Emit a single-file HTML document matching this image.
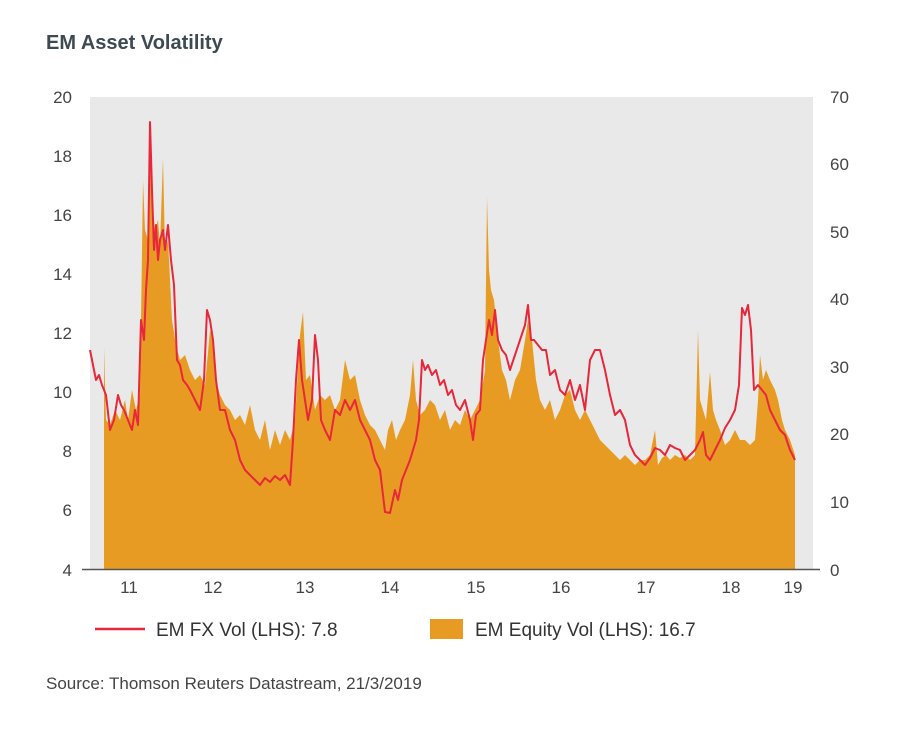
<!DOCTYPE html>
<html><head><meta charset="utf-8"><style>
body{margin:0;background:#fff;font-family:"Liberation Sans",sans-serif;}
</style></head><body>
<svg width="904" height="737" xmlns="http://www.w3.org/2000/svg" font-family="Liberation Sans, sans-serif">
<rect width="904" height="737" fill="#fff"/>
<text x="46" y="49" font-size="20" font-weight="bold" fill="#3d4a52">EM Asset Volatility</text>
<rect x="90" y="97" width="723" height="472" fill="#e9e9e9"/>
<polygon fill="#e89b22" points="104,570 104,347 106,420 110,425 115,410 120,420 125,400 128,420 132,390 136,410 140,395 143,180 145,230 148,240 150,125 152,200 155,230 158,220 160,245 163,158 165,250 168,240 172,320 176,345 180,360 185,355 190,370 195,380 200,375 205,385 210,330 213,340 216,380 220,395 225,405 230,410 235,420 240,415 245,425 250,405 255,430 260,440 265,420 270,450 275,430 280,445 285,430 290,440 295,420 300,335 303,312 306,380 310,375 315,410 320,395 325,400 330,395 335,410 340,400 345,360 350,380 355,375 360,400 365,415 370,425 375,430 380,440 385,450 388,430 392,420 396,440 400,430 405,420 410,395 413,360 416,400 420,415 425,410 430,400 435,405 440,420 445,410 450,430 455,420 460,425 465,410 470,420 475,410 480,400 485,370 487,197 489,270 491,290 494,300 498,340 502,370 506,380 510,400 515,380 520,370 525,340 528,320 532,340 536,380 540,400 545,410 550,400 555,420 560,410 565,395 570,390 575,410 580,420 585,410 590,420 595,430 600,440 605,445 610,450 615,455 620,460 625,455 630,460 635,465 640,460 645,460 650,455 655,430 658,465 662,458 666,455 670,460 675,455 680,458 685,455 690,460 695,455 698,330 700,400 703,410 706,420 710,372 713,410 716,420 720,430 725,445 730,440 735,430 740,440 745,440 750,445 755,440 758,400 760,355 763,380 766,370 770,380 775,390 778,400 782,420 785,430 790,440 795,455 795,570"/>
<polyline fill="none" stroke="#e8273a" stroke-width="2" stroke-linejoin="round" points="90,350 93,365 96,380 99,375 102,385 106,395 110,430 114,420 118,395 121,405 124,410 128,420 132,430 135,410 138,425 141,320 144,340 146,290 148,260 150,122 152,190 154,250 156,225 158,260 160,240 163,230 165,250 168,225 171,260 174,285 177,360 180,365 183,380 187,385 190,390 195,400 200,410 204,380 207,310 210,320 213,340 216,380 220,410 225,410 230,430 235,440 240,460 245,470 250,475 255,480 260,485 265,478 270,482 275,476 280,480 285,475 290,485 293,440 296,380 299,340 302,380 305,400 308,420 312,400 315,335 318,360 321,420 325,430 330,440 335,410 340,415 345,400 350,410 355,400 360,420 365,430 370,440 375,460 380,470 385,512 390,513 395,490 398,500 402,480 406,470 410,460 413,450 416,440 419,420 422,360 425,370 428,365 432,375 436,370 440,385 444,380 448,395 452,390 456,405 460,410 465,400 470,420 473,440 476,415 480,410 483,360 486,340 489,320 492,335 495,310 498,340 502,350 506,355 510,370 515,355 520,340 525,325 528,305 531,340 534,340 538,345 542,350 546,350 550,375 555,370 560,390 565,395 570,380 575,400 580,385 585,410 590,360 595,350 600,350 605,370 610,395 615,415 620,410 625,420 630,445 635,455 640,460 645,465 650,458 655,448 660,450 665,455 670,445 675,448 680,450 685,460 690,455 695,450 700,440 703,432 706,455 710,460 715,450 720,440 725,428 730,420 735,410 739,385 742,308 745,315 748,305 751,330 754,390 758,385 762,390 766,395 770,410 775,420 780,430 785,435 790,450 795,460"/>
<line x1="82" y1="569.5" x2="820" y2="569.5" stroke="#555" stroke-width="1.5"/>
<g font-size="17" fill="#444" text-anchor="end">
<text x="72" y="103">20</text><text x="72" y="162">18</text><text x="72" y="221">16</text><text x="72" y="280">14</text><text x="72" y="339">12</text><text x="72" y="398">10</text><text x="72" y="457">8</text><text x="72" y="516">6</text><text x="72" y="576">4</text>
</g>
<g font-size="17" fill="#444">
<text x="830" y="103">70</text><text x="830" y="170">60</text><text x="830" y="238">50</text><text x="830" y="305">40</text><text x="830" y="373">30</text><text x="830" y="440">20</text><text x="830" y="508">10</text><text x="830" y="576">0</text>
</g>
<g font-size="17" fill="#444" text-anchor="middle">
<text x="129" y="593">11</text><text x="213" y="593">12</text><text x="305" y="593">13</text><text x="390" y="593">14</text><text x="476" y="593">15</text><text x="561" y="593">16</text><text x="646" y="593">17</text><text x="731" y="593">18</text><text x="793" y="593">19</text>
</g>
<line x1="95" y1="629" x2="145" y2="629" stroke="#e8273a" stroke-width="2.5"/>
<text x="156" y="636" font-size="19" fill="#333">EM FX Vol (LHS): 7.8</text>
<rect x="430" y="619" width="33" height="20" fill="#e89b22"/>
<text x="475" y="636" font-size="19" fill="#333">EM Equity Vol (LHS): 16.7</text>
<text x="46" y="689" font-size="17" fill="#444">Source: Thomson Reuters Datastream, 21/3/2019</text>
</svg>
</body></html>
